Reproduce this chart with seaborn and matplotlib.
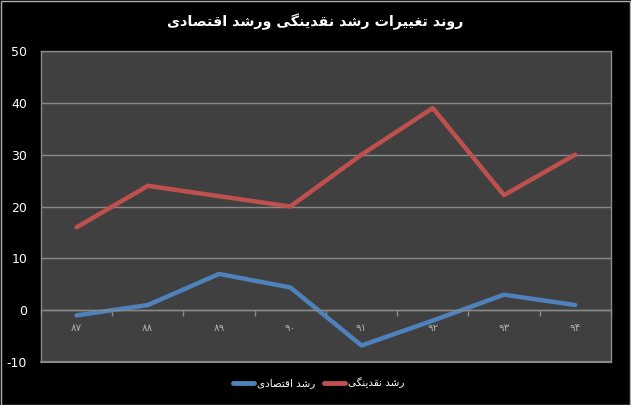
import matplotlib
matplotlib.use("Agg")
import matplotlib.pyplot as plt
import seaborn as sns
import pandas as pd
from matplotlib.patches import Rectangle
from matplotlib.ticker import FixedLocator, NullFormatter, FuncFormatter

years = ["۸۷", "۸۸", "۸۹", "۹۰", "۹۱", "۹۲", "۹۳", "۹۴"]
liquidity_growth = [16, 24, 22, 20, 30, 39, 22.2, 30]
economic_growth = [-1, 1, 7, 4.4, -6.8, -2, 3, 1]
series_names = ["رشد اقتصادی", "رشد نقدینگی"]
title_text = "روند تغییرات رشد نقدینگی ورشد اقتصادی"
y_ticks = [-10, 0, 10, 20, 30, 40, 50]

# --- minimal Arabic/Persian shaping (presentation forms) ---
FORMS = {
    "\u0627": ("\uFE8D", "\uFE8E", None, None),
    "\u062A": ("\uFE95", "\uFE96", "\uFE97", "\uFE98"),
    "\u062F": ("\uFEA9", "\uFEAA", None, None),
    "\u0631": ("\uFEAD", "\uFEAE", None, None),
    "\u0634": ("\uFEB5", "\uFEB6", "\uFEB7", "\uFEB8"),
    "\u0635": ("\uFEB9", "\uFEBA", "\uFEBB", "\uFEBC"),
    "\u063A": ("\uFECD", "\uFECE", "\uFECF", "\uFED0"),
    "\u0642": ("\uFED5", "\uFED6", "\uFED7", "\uFED8"),
    "\u0646": ("\uFEE5", "\uFEE6", "\uFEE7", "\uFEE8"),
    "\u0648": ("\uFEED", "\uFEEE", None, None),
    "\u06CC": ("\uFBFC", "\uFBFD", "\uFBFE", "\uFBFF"),
    "\u06AF": ("\uFB92", "\uFB93", "\uFB94", "\uFB95"),
}


def shape(text):
    out = []
    n = len(text)
    for i, ch in enumerate(text):
        if ch not in FORMS:
            out.append(ch)
            continue
        iso, fin, ini, med = FORMS[ch]
        prev = text[i - 1] if i > 0 else None
        nxt = text[i + 1] if i < n - 1 else None
        join_prev = prev in FORMS and FORMS[prev][2] is not None
        join_next = ini is not None and nxt in FORMS
        if join_prev and join_next:
            out.append(med)
        elif join_prev:
            out.append(fin)
        elif join_next:
            out.append(ini)
        else:
            out.append(iso)
    return "".join(out)[::-1]


sns.set_theme(style="dark")
plt.rcParams["font.family"] = ["DejaVu Sans"]

df = pd.DataFrame({
    "pos": list(range(len(years))) * 2,
    "value": economic_growth + liquidity_growth,
    "series": [shape(series_names[0])] * len(years) + [shape(series_names[1])] * len(years),
})

fig = plt.figure(figsize=(6.31, 4.05), dpi=100, facecolor="black")
ax = fig.add_axes([0.065, 0.106, 0.903, 0.768])
ax.set_facecolor("#404040")

palette = {shape(series_names[0]): "#4f81bd", shape(series_names[1]): "#c0504d"}
sns.lineplot(data=df, x="pos", y="value", hue="series", palette=palette,
             linewidth=3.2, ax=ax, legend=True)

ax.set_xlim(-0.5, len(years) - 0.5)
ax.set_ylim(-10, 50)
ax.set_yticks(y_ticks)
ax.yaxis.set_major_formatter(FuncFormatter(lambda v, p: "%d" % v))
ax.tick_params(axis="y", colors="white", labelsize=9, length=0, pad=10)
ax.grid(axis="y", color="#8a8a8a", linewidth=1)
ax.grid(axis="x", visible=False)
ax.set_xlabel("")
ax.set_ylabel("")

for side in ["top", "right", "left"]:
    ax.spines[side].set_visible(True)
    ax.spines[side].set_color("#8a8a8a")
    ax.spines[side].set_linewidth(1)
ax.spines["bottom"].set_position(("data", 0))
ax.spines["bottom"].set_color("#8a8a8a")
ax.spines["bottom"].set_linewidth(1)
ax.axhline(-10, color="#8a8a8a", linewidth=1.5, clip_on=False)

ax.set_xticks(range(len(years)))
ax.set_xticklabels(years)
ax.xaxis.set_minor_locator(FixedLocator([i + 0.5 for i in range(-1, len(years))]))
ax.xaxis.set_minor_formatter(NullFormatter())
ax.tick_params(axis="x", which="major", length=0, colors="#b0b0b0", labelsize=7.5, pad=9)
ax.tick_params(axis="x", which="minor", length=4, color="#8a8a8a", direction="out", bottom=True)

leg = ax.legend(loc="center", bbox_to_anchor=(0.505, 0.054), bbox_transform=fig.transFigure,
                ncol=2, frameon=False, fontsize=7.5, handlelength=2.0, columnspacing=0.9,
                handletextpad=0.3)
for t in leg.get_texts():
    t.set_color("white")
for line in leg.get_lines():
    line.set_linewidth(3.5)

fig.text(0.5, 0.946, shape(title_text), color="white", fontsize=10.3, fontweight="bold",
         ha="center", va="center")

fig.patches.append(Rectangle((0.001, 0.001), 0.997, 0.997, transform=fig.transFigure,
                             fill=False, edgecolor="#b0b0b0", linewidth=1))

fig.savefig("out.png", dpi=100, facecolor="black")
